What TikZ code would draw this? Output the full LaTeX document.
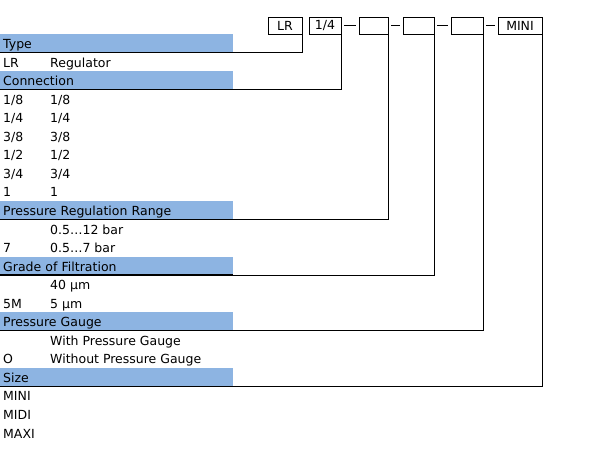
\documentclass[tikz,border=0pt]{standalone}
\usepackage{fontspec}
\setmainfont{DejaVu Sans}
\usetikzlibrary{positioning}
\definecolor{bandblue}{RGB}{141,180,226}
\tikzset{
  band/.style={fill=bandblue, anchor=north west, minimum width=233pt, minimum height=18pt,
    text width=227pt, inner xsep=3pt, inner ysep=0pt, text height=14.5pt, text depth=3.5pt, align=left},
  codebox/.style={draw, line width=0.8pt, minimum height=17pt, inner sep=0pt, outer sep=0pt},
  item/.style={anchor=base west, inner sep=0pt},
  rule/.style={line width=1.3pt},
  link/.style={line width=0.9pt}
}
\begin{document}
\begin{tikzpicture}[x=1pt, y=-1pt, font=\fontsize{12.5}{14}\selectfont]
    \useasboundingbox (0,0) rectangle (594,457);

    % order code boxes
    \node[codebox, minimum width=34pt] (b1) at (285,25.5) {LR};
    \node[codebox, minimum width=32pt, right=7pt of b1] (b2) {1/4};
    \node[codebox, minimum width=29pt, right=18pt of b2] (b3) {};
    \node[codebox, minimum width=31pt, right=15pt of b3] (b4) {};
    \node[codebox, minimum width=32pt, right=17pt of b4] (b5) {};
    \node[codebox, minimum width=44pt, right=15pt of b5] (b6) {MINI};
    \draw[link, shorten <=3pt, shorten >=3pt] (b2) -- (b3);
    \draw[link, shorten <=3pt, shorten >=3pt] (b3) -- (b4);
    \draw[link, shorten <=3pt, shorten >=3pt] (b4) -- (b5);
    \draw[link, shorten <=3pt, shorten >=3pt] (b5) -- (b6);

    % group headers
    \foreach \i/\name/\txt in {0/Type/Type, 2/Conn/Connection, 9/Range/Pressure Regulation Range,
        12/Filter/Grade of Filtration, 15/Gauge/Pressure Gauge, 18/Size/Size} {
        \node[band] (h\name) at (0,{34+18.55*\i}) {\txt};
        \draw[rule] (h\name.south west) -- (h\name.south east);
    }

    % options
    \foreach \i/\code/\desc in {1/LR/Regulator, 3/1\slash 8/1\slash 8, 4/1\slash 4/1\slash 4,
        5/3\slash 8/3\slash 8, 6/1\slash 2/1\slash 2, 7/3\slash 4/3\slash 4, 8/1/1,
        10//0.5…12 bar, 11/7/0.5…7 bar, 13//40 µm, 14/5M/5 µm,
        16//With Pressure Gauge, 17/O/Without Pressure Gauge,
        19/MINI/, 20/MIDI/, 21/MAXI/} {
        \node[item] (c\i) at (3,{34+18.55*\i+14.5}) {\code};
        \node[item] (d\i) at (50,{34+18.55*\i+14.5}) {\desc};
    }

    % connectors
    \draw[link] (hType.south east) -| (b1.south east);
    \draw[link] (hConn.south east) -| (b2.south east);
    \draw[link] (hRange.south east) -| (b3.south east);
    \draw[link] (hFilter.south east) -| (b4.south east);
    \draw[link] (hGauge.south east) -| (b5.south east);
    \draw[link] (hSize.south east) -| (b6.south east);
\end{tikzpicture}
\end{document}
